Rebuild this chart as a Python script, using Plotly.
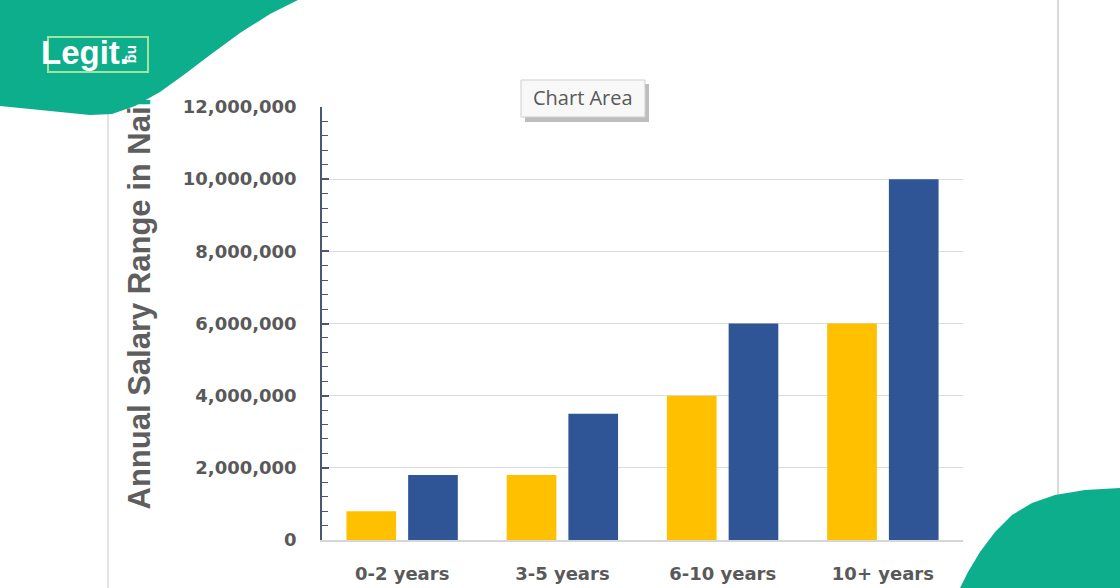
import plotly.graph_objects as go

categories = ["0-2 years", "3-5 years", "6-10 years", "10+ years"]
min_salary = [800000, 1800000, 4000000, 6000000]
max_salary = [1800000, 3500000, 6000000, 10000000]
y_ticks = [0, 2000000, 4000000, 6000000, 8000000, 10000000, 12000000]

W, H = 1120, 588
L, R, T, B = 322, 963, 107, 540


def px(x):
    return (x - L) / (R - L)


def py(y):
    return (B - y) / (B - T)


def path(points):
    s = "M " + " L ".join(f"{px(x):.5f},{py(y):.5f}" for x, y in points) + " Z"
    return s


fig = go.Figure()
fig.add_trace(go.Bar(x=categories, y=min_salary, marker=dict(color="#FFC000", line=dict(width=0)),
                     name="Min", hoverinfo="skip"))
fig.add_trace(go.Bar(x=categories, y=max_salary, marker=dict(color="#2F5597", line=dict(width=0)),
                     name="Max", hoverinfo="skip"))

shapes = []
# faint vertical frame lines
shapes.append(dict(type="line", xref="paper", yref="paper", x0=px(108), x1=px(108), y0=py(0), y1=py(588),
                   line=dict(color="#DADADA", width=1.5)))
shapes.append(dict(type="line", xref="paper", yref="paper", x0=px(1058), x1=px(1058), y0=py(0), y1=py(588),
                   line=dict(color="#DADADA", width=2)))
# top-left green blob
tl = [(0, 0), (298, 0), (270, 14), (240, 33), (210, 55), (185, 74), (160, 92), (135, 106), (112, 114),
      (90, 115), (60, 112), (30, 109), (0, 106)]
shapes.append(dict(type="path", xref="paper", yref="paper", path=path(tl), fillcolor="#0DAE8C",
                   line=dict(width=0)))
# bottom-right green blob
br = [(960, 588), (968, 572), (980, 552), (995, 532), (1012, 515), (1032, 503), (1055, 495), (1085, 490),
      (1120, 488), (1120, 588)]
shapes.append(dict(type="path", xref="paper", yref="paper", path=path(br), fillcolor="#0DAE8C",
                   line=dict(width=0)))
# logo box
shapes.append(dict(type="rect", xref="paper", yref="paper", x0=px(48), x1=px(148), y0=py(72), y1=py(37),
                   line=dict(color="#9EE6A0", width=2), fillcolor="rgba(0,0,0,0)"))
# Chart Area tooltip
shapes.append(dict(type="rect", xref="paper", yref="paper", x0=px(525), x1=px(649), y0=py(122), y1=py(84),
                   line=dict(width=0), fillcolor="#BDBDBD"))
shapes.append(dict(type="rect", xref="paper", yref="paper", x0=px(521), x1=px(645), y0=py(117), y1=py(80),
                   line=dict(color="#CFCFCF", width=1), fillcolor="#F8F8F8"))

annotations = [
    dict(text="Annual Salary Range in Nai<span style='color:#0DAE8C'>ra</span>", xref="paper", yref="paper",
         x=px(139), y=py(512), xanchor="center", yanchor="bottom", textangle=-90, showarrow=False,
         font=dict(family="Liberation Sans", size=31, color="#5E5E5E", weight="bold")),
    dict(text="Legit.", xref="paper", yref="paper", x=px(39), y=py(53), xanchor="left", yanchor="middle",
         showarrow=False, font=dict(family="Liberation Sans", size=33, color="#FFFFFF", weight="bold")),
    dict(text="ng", xref="paper", yref="paper", x=px(134), y=py(54), xanchor="center", yanchor="middle",
         textangle=90, showarrow=False, font=dict(family="Liberation Sans", size=15, color="#FFFFFF", weight="bold")),
    dict(text="Chart Area", xref="paper", yref="paper", x=px(583), y=py(98), xanchor="center", yanchor="middle",
         showarrow=False, font=dict(family="Open Sans", size=20, color="#595959")),
]

fig.update_layout(
    width=W, height=H,
    margin=dict(l=L, r=W - R, t=T, b=H - B, pad=0),
    paper_bgcolor="white", plot_bgcolor="white",
    barmode="group", bargap=0.23, bargroupgap=0.195,
    showlegend=False,
    shapes=shapes, annotations=annotations,
    xaxis=dict(showgrid=False, showline=True, linecolor="#D6D6D6", linewidth=1.5, ticks="",
               tickfont=dict(family="DejaVu Sans", size=18, color="#595959", weight="bold"),
               ticklabelstandoff=17, zeroline=False, automargin=False),
    yaxis=dict(range=[0, 12000000], tickvals=y_ticks, tickformat=",d", showgrid=True,
               gridcolor="#D9DDE3", gridwidth=1.2, zeroline=False, automargin=False,
               showline=True, linecolor="#4A5870", linewidth=1.5,
               ticks="inside", ticklen=7, tickcolor="#4A5870", tickwidth=1.5,
               minor=dict(dtick=400000, ticks="inside", ticklen=6, tickcolor="#4A5870", tickwidth=1.2, showgrid=False),
               tickfont=dict(family="DejaVu Sans", size=18, color="#595959", weight="bold"),
               ticklabelstandoff=20),
)

fig.write_html("out.html", config={"displayModeBar": False},
               post_script="document.body.style.margin='0';document.body.style.overflow='hidden';")
